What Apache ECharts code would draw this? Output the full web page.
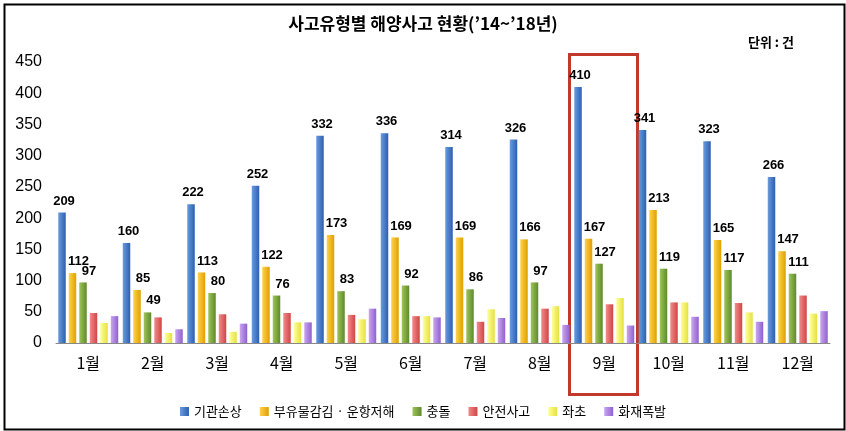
<!DOCTYPE html>
<html><head><meta charset="utf-8">
<script src="https://cdn.jsdelivr.net/npm/echarts@6/dist/echarts.min.js"></script>
<style>html,body{margin:0;padding:0;background:#fff}#c{width:846px;height:431px}</style>
</head><body><div id="c"></div>
<script>
const categories=['1월','2월','3월','4월','5월','6월','7월','8월','9월','10월','11월','12월'];
const seriesNames=['기관손상','부유물감김 · 운항저해','충돌','안전사고','좌초','화재폭발'];
const s1=[209,160,222,252,332,336,314,326,410,341,323,266];
const s2=[112,85,113,122,173,169,169,166,167,213,165,147];
const s3=[97,49,80,76,83,92,86,97,127,119,117,111];
const s4=[48,41,46,48,45,43,34,55,62,65,64,76];
const s5=[32,16,18,33,38,43,54,59,72,65,49,47];
const s6=[43,22,31,33,55,41,40,29,28,42,34,51];
const yTicks=[0,50,100,150,200,250,300,350,400,450];
const colors=[['#6a9be0','#2c5fb0'],['#ffd24a','#e0a000'],['#9fc55a','#5e8a2a'],['#f48a8a','#d04545'],['#ffff99','#e6e040'],['#c9a6f0','#9060d0']];
const data=[s1,s2,s3,s4,s5,s6];
const chart=echarts.init(document.getElementById('c'));
chart.setOption({
 animation:false,
 title:{text:'사고유형별 해양사고 현황(’14~’18년)',left:'center',top:10,textStyle:{fontSize:17,fontWeight:'bold',color:'#000',fontFamily:'Noto Sans CJK KR'}},
 legend:{bottom:8,itemWidth:9,itemHeight:9,itemGap:18,icon:'rect',textStyle:{fontSize:13,color:'#000',fontFamily:'Noto Sans CJK KR'}},
 grid:{left:56,right:16,top:62,bottom:88},
 xAxis:{type:'category',data:categories,axisTick:{show:false},axisLine:{lineStyle:{color:'#888'}},axisLabel:{fontSize:16,color:'#000',margin:12,fontFamily:'Noto Sans CJK KR'}},
 yAxis:{type:'value',min:0,max:450,interval:50,splitLine:{show:false},axisLine:{show:false},axisLabel:{fontSize:16,color:'#000',margin:14,formatter:v=>yTicks.includes(v)?v:''}},
 graphic:[
  {type:'rect',left:2,top:2,shape:{width:840,height:425},style:{fill:'none',stroke:'#000',lineWidth:2}},
  {type:'rect',left:567,top:52,shape:{width:68,height:340},style:{fill:'none',stroke:'#c0392b',lineWidth:3}},
  {type:'text',left:748,top:36,style:{text:'단위 : 건',font:'bold 13px "Noto Sans CJK KR"',fill:'#000'}}
 ],
 series:seriesNames.map((n,i)=>({
  name:n,type:'bar',data:data[i],barWidth:7.5,barGap:'40%',barCategoryGap:'18%',
  itemStyle:{color:new echarts.graphic.LinearGradient(0,0,1,0,[{offset:0,color:colors[i][0]},{offset:1,color:colors[i][1]}])},
  label:{show:i<3,position:'top',fontSize:13,fontWeight:'bold',color:'#000',offset:[i==0?2:6,0]}
 }))
});
</script></body></html>
